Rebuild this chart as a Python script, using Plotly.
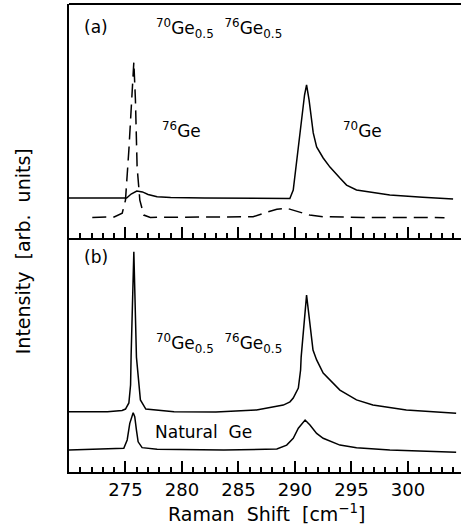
import plotly.graph_objects as go

# ---- Panel (a): 70Ge / 76Ge spectra ----
shift_a_solid = [270.0, 273.0, 275.1, 275.5, 276.0, 276.5, 277.0, 277.8, 279.0, 282.0,
                 285.0, 288.0, 289.55, 289.85, 290.05, 290.3, 290.6, 290.85, 291.03,
                 291.25, 291.62, 291.92, 292.5, 293.1, 293.98, 294.57, 295.45, 296.9,
                 298.4, 301.3, 304.0]
int_a_solid = [17.1, 17.1, 17.1, 18.8, 20.1, 19.7, 18.6, 17.6, 17.3, 17.1,
               16.9, 16.9, 16.9, 20.5, 28.2, 37.6, 50.4, 61.1, 65.4,
               59.0, 44.9, 38.9, 34.2, 30.3, 25.6, 22.6, 20.5, 19.4,
               18.4, 17.4, 16.7]

shift_a_dash = [272.06, 274.0, 274.71, 275.0, 275.3, 275.59, 275.74, 275.88, 276.03,
                276.27, 276.62, 277.2, 280.0, 284.0, 286.3, 287.5, 288.4, 289.27,
                290.15, 291.3, 292.5, 296.0, 300.0, 303.24]
int_a_dash = [8.8, 9.0, 10.6, 16.2, 37.6, 63.2, 75.2, 59.0, 30.3,
              16.2, 9.8, 8.8, 8.8, 8.8, 9.1, 11.0, 12.3, 12.7,
              11.5, 9.8, 9.1, 8.8, 8.8, 8.7]

# ---- Panel (b): 70Ge0.5 76Ge0.5 alloy and natural Ge ----
shift_b_alloy = [270.0, 273.4, 274.7, 275.0, 275.3, 275.45, 275.5, 275.74, 275.97,
                 276.17, 276.32, 276.8, 279.3, 283.0, 286.6, 288.97, 289.56, 289.85,
                 290.3, 290.5, 290.55, 291.03, 291.33, 291.6, 291.92, 292.5, 293.98,
                 295.45, 296.9, 299.86, 304.27]
int_b_alloy = [25.8, 25.8, 26.3, 26.9, 29.5, 37.2, 50.0, 94.1, 49.1,
               38.0, 30.8, 26.9, 25.8, 25.6, 26.5, 28.6, 30.0, 31.6,
               35.9, 43.6, 49.1, 75.6, 62.0, 52.1, 47.9, 42.3, 35.0,
               30.8, 28.6, 26.5, 25.1]

shift_b_nat = [270.0, 274.85, 275.15, 275.38, 275.68, 275.82, 275.97, 276.12, 276.47,
               277.8, 283.7, 288.4, 289.27, 289.85, 290.3, 290.9, 291.33, 291.92,
               292.5, 293.98, 295.45, 298.4, 304.27]
int_b_nat = [9.4, 10.1, 13.7, 20.8, 25.3, 23.6, 17.9, 12.9, 10.4,
             9.7, 9.4, 9.8, 11.5, 14.4, 18.7, 22.2, 20.1, 16.5,
             14.4, 11.5, 10.4, 9.4, 8.4]

x_range = [270, 304.7]
major_ticks = [275, 280, 285, 290, 295, 300]
tick_text = [str(t) for t in major_ticks]

FONT = "DejaVu Sans"
INK = "black"

fig = go.Figure()
line_style = dict(color=INK, width=1.5)
fig.add_trace(go.Scatter(x=shift_a_solid, y=int_a_solid, mode="lines", line=line_style,
                         xaxis="x", yaxis="y", showlegend=False))
fig.add_trace(go.Scatter(x=shift_a_dash, y=int_a_dash, mode="lines",
                         line=dict(color=INK, width=1.5, dash="14px,7px"),
                         xaxis="x", yaxis="y", showlegend=False))
fig.add_trace(go.Scatter(x=shift_b_alloy, y=int_b_alloy, mode="lines", line=line_style,
                         xaxis="x2", yaxis="y2", showlegend=False))
fig.add_trace(go.Scatter(x=shift_b_nat, y=int_b_nat, mode="lines", line=line_style,
                         xaxis="x2", yaxis="y2", showlegend=False))

xcommon = dict(range=x_range, showline=True, linecolor=INK, linewidth=2,
               ticks="inside", ticklen=11, tickwidth=1.5, tickcolor=INK,
               tickvals=major_ticks, ticktext=tick_text,
               minor=dict(dtick=1, tick0=270, ticks="inside", ticklen=5,
                          tickwidth=1.5, tickcolor=INK),
               showgrid=False, zeroline=False, mirror=False)
ycommon = dict(range=[0, 100], showline=True, linecolor=INK, linewidth=2,
               ticks="", showticklabels=False, showgrid=False, zeroline=False)

fig.update_layout(
    width=461, height=529,
    margin=dict(l=69, r=0, t=4, b=57),
    paper_bgcolor="white", plot_bgcolor="white",
    font=dict(family=FONT, color=INK, size=17),
    xaxis=dict(xcommon, anchor="y", showticklabels=False),
    yaxis=dict(ycommon, domain=[0.5, 1.0], anchor="x"),
    xaxis2=dict(xcommon, anchor="y2", showticklabels=True,
                tickfont=dict(family=FONT, size=18, color=INK)),
    yaxis2=dict(ycommon, domain=[0.0, 0.5], anchor="x2"),
)

# top frame line
fig.add_shape(type="line", xref="paper", yref="paper", x0=0, x1=1, y0=1, y1=1,
              line=dict(color=INK, width=2))

ann_font = dict(family=FONT, size=17, color=INK)
labels = [
    ("(a)", 272.35, 90.2, "x", "y"),
    ("<sup>70</sup>Ge<sub>0.5</sub>  <sup>76</sup>Ge<sub>0.5</sub>", 283.24, 89.7, "x", "y"),
    ("<sup>76</sup>Ge", 279.94, 46.2, "x", "y"),
    ("<sup>70</sup>Ge", 295.95, 46.2, "x", "y"),
    ("(b)", 272.35, 91.9, "x2", "y2"),
    ("<sup>70</sup>Ge<sub>0.5</sub>  <sup>76</sup>Ge<sub>0.5</sub>", 283.24, 55.1, "x2", "y2"),
    ("Natural  Ge", 281.91, 17.2, "x2", "y2"),
]
for text, xv, yv, xr, yr in labels:
    fig.add_annotation(text=text, x=xv, y=yv, xref=xr, yref=yr, showarrow=False,
                       xanchor="center", yanchor="middle", font=ann_font)

# axis titles
fig.add_annotation(text="Raman  Shift  [cm<sup>\u22121</sup>]", xref="paper", yref="paper",
                   x=0.504, y=-0.0876, showarrow=False, xanchor="center", yanchor="middle",
                   font=dict(family=FONT, size=19, color=INK))
fig.add_annotation(text="Intensity  [arb.  units]", xref="paper", yref="paper",
                   x=-0.117, y=0.472, showarrow=False, xanchor="center", yanchor="middle",
                   textangle=-90, font=dict(family=FONT, size=19, color=INK))

fig.write_html("out.html")
